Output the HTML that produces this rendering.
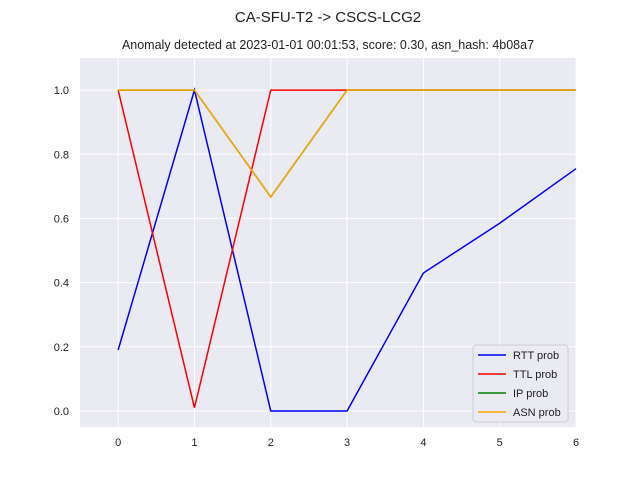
<!DOCTYPE html>
<html><head><meta charset="utf-8"><style>
body{margin:0;background:#fff;font-family:"Liberation Sans","DejaVu Sans",sans-serif;}
svg text{font-family:"Liberation Sans","DejaVu Sans",sans-serif;}
</style></head><body>
<svg id="chart" width="640" height="480" xmlns="http://www.w3.org/2000/svg">
<rect width="640" height="480" fill="#fff"/>
<text x="328" y="22" font-size="15" text-anchor="middle" fill="#222">CA-SFU-T2 -&gt; CSCS-LCG2</text>
<text x="328" y="49" font-size="12.5" text-anchor="middle" fill="#222">Anomaly detected at 2023-01-01 00:01:53, score: 0.30, asn_hash: 4b08a7</text>
<rect x="80" y="58" width="496" height="369" fill="#eaeaf2"/>
<g id="grid"></g><g id="series"></g><g id="ticks"></g>
<g>
<rect x="473" y="345" width="95" height="77" rx="3" fill="#eaeaf2" stroke="#ccc" opacity="0.9"/>
<g id="legend-items"></g>
</g>
</svg>
<script>
const xTicks=[0,1,2,3,4,5,6];
const yTicks=[0,0.2,0.4,0.6,0.8,1.0];
const xs=[0,1,2,3,4,5,6];
const rtt=[0.19,1.0,0.0,0.0,0.43,0.585,0.755];
const ttl=[1.0,0.01,1.0,1.0,1.0,1.0,1.0];
const ip=[1.0,1.0,0.667,1.0,1.0,1.0,1.0];
const asn=[1.0,1.0,0.667,1.0,1.0,1.0,1.0];
const seriesNames=["RTT prob","TTL prob","IP prob","ASN prob"];
const NS="http://www.w3.org/2000/svg";
const X=v=>80+(v+0.5)*(496/6.5);
const Y=v=>427-(v+0.05)*(369/1.15);
function mk(t,a,p){const e=document.createElementNS(NS,t);for(const k in a)e.setAttribute(k,a[k]);p.appendChild(e);return e;}
const g=document.getElementById('grid'),tk=document.getElementById('ticks'),s=document.getElementById('series');
xTicks.forEach(v=>{const l=mk('line',{x1:X(v),x2:X(v),y1:58,y2:427,stroke:'#fff','stroke-width':1},g);

const t=mk('text',{x:X(v),y:446,'font-size':11,'text-anchor':'middle',fill:'#222'},tk);t.textContent=v;
});
yTicks.forEach(v=>{const l=mk('line',{x1:80,x2:576,y1:Y(v),y2:Y(v),stroke:'#fff','stroke-width':1},g);

const t=mk('text',{x:69,y:Y(v)+4,'font-size':11,'text-anchor':'end',fill:'#222'},tk);t.textContent=v.toFixed(1);
});
const data=[rtt,ttl,ip,asn],cols=['#0000ff','#ff0000','#008000','#ffa500'];
data.forEach((d,i)=>{const p=mk('polyline',{points:d.map((v,j)=>X(xs[j])+','+Y(v)).join(' '),fill:'none',stroke:cols[i],'stroke-width':1.5},s);
});
const li=document.getElementById('legend-items');
seriesNames.forEach((n,i)=>{const y=355+i*19;
const l=mk('line',{x1:478,x2:506,y1:y,y2:y,stroke:cols[i],'stroke-width':1.5},li);

const t=mk('text',{x:513,y:y+4,'font-size':11,fill:'#222'},li);t.textContent=n;
});
</script>
</body></html>
